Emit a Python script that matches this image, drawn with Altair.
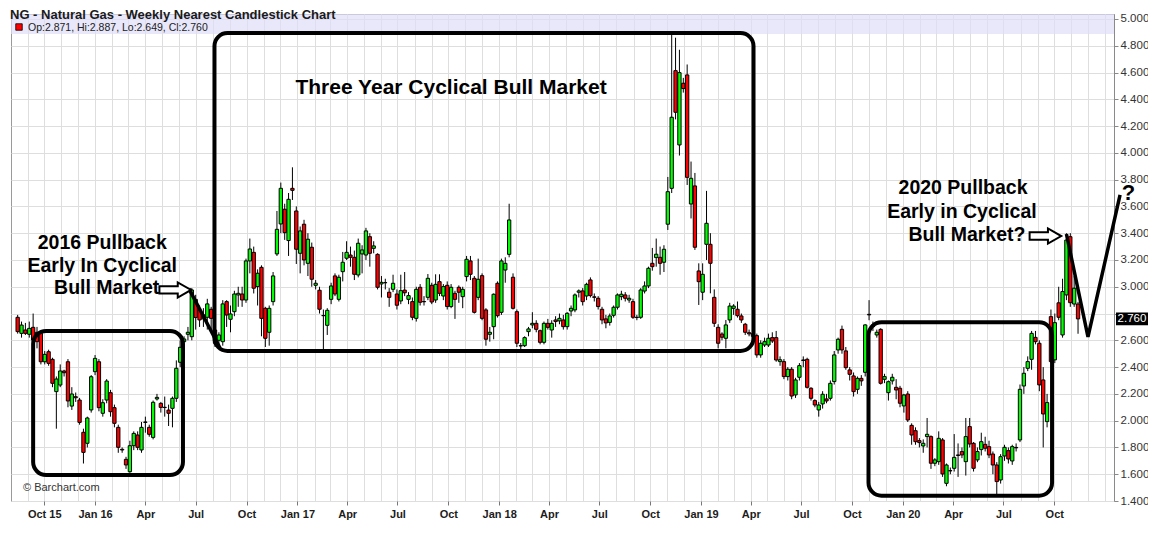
import altair as alt
import pandas as pd
import numpy as np

# ---------------- weekly OHLC ----------------
first_week = "2015-08-14"

opens = [
    2.772, 2.652, 2.677, 2.645, 2.697, 2.66, 2.652, 2.440, 2.515, 2.458,
    2.217, 2.266, 2.371, 2.440, 2.109, 2.179, 2.154, 1.913, 1.831, 2.080,
    2.366, 2.440, 2.055, 2.154, 2.209, 2.097, 1.950, 1.786, 1.711, 1.619,
    1.813, 1.893, 1.781, 1.987, 1.950, 1.875, 2.162, 2.129, 2.100, 2.079,
    2.092, 2.167, 2.436, 2.590, 2.645, 2.627, 2.906, 2.827, 2.760, 2.772,
    2.832, 2.677, 2.600, 2.590, 2.889, 2.757, 2.814, 2.939, 2.946, 2.901,
    3.193, 3.257, 3.001, 3.145, 2.839, 2.660, 2.889, 3.245, 3.469, 3.579,
    3.345, 3.735, 3.566, 3.250, 3.467, 3.175, 3.295, 3.011, 2.974, 2.785,
    2.712, 2.906, 3.081, 2.906, 3.113, 3.213, 3.237, 3.220, 3.088, 3.245,
    3.237, 3.374, 3.287, 3.242, 3.021, 3.030, 2.959, 2.981, 2.946, 2.894,
    2.975, 2.906, 2.889, 2.764, 2.996, 2.890, 2.921, 3.011, 2.901, 3.038,
    2.931, 3.011, 2.852, 2.951, 2.996, 2.926, 3.076, 3.193, 3.063, 2.921,
    3.083, 2.827, 2.645, 2.702, 3.026, 2.809, 3.125, 3.242, 3.071, 2.814,
    2.560, 2.560, 2.665, 2.715, 2.727, 2.672, 2.585, 2.727, 2.677, 2.752,
    2.745, 2.752, 2.702, 2.819, 2.827, 2.959, 2.969, 2.931, 3.051, 2.925,
    2.914, 2.832, 2.760, 2.734, 2.787, 2.847, 2.926, 2.939, 2.901, 2.889,
    2.772, 2.772, 2.968, 3.006, 3.175, 3.218, 3.220, 3.183, 3.467, 3.735,
    4.614, 4.059, 4.520, 4.582, 3.618, 3.753, 3.118, 2.959, 3.317, 3.317,
    2.921, 2.697, 2.647, 2.615, 2.752, 2.839, 2.832, 2.782, 2.720, 2.657,
    2.650, 2.635, 2.491, 2.565, 2.565, 2.620, 2.620, 2.441, 2.441, 2.329,
    2.384, 2.192, 2.324, 2.453, 2.458, 2.242, 2.150, 2.080, 2.125, 2.162,
    2.167, 2.292, 2.528, 2.682, 2.521, 2.379, 2.334, 2.234, 2.316, 2.361,
    2.794, 2.715, 2.640, 2.682, 2.309, 2.209, 2.297, 2.249, 2.242, 2.110,
    2.199, 1.965, 1.925, 1.851, 1.811, 1.881, 1.881, 1.682, 1.694, 1.856,
    1.532, 1.627, 1.644, 1.744, 1.769, 1.694, 1.956, 1.831, 1.707, 1.784,
    1.823, 1.806, 1.751, 1.669, 1.557, 1.736, 1.776, 1.699, 1.800, 1.856,
    2.259, 2.391, 2.458, 2.622, 2.578, 2.304, 1.993, 2.777, 2.454, 2.880,
    2.640, 2.939, 3.374, 2.871, 2.871,
]

highs = [
    2.79, 2.74, 2.73, 2.74, 2.80, 2.70, 2.67, 2.52, 2.53, 2.47,
    2.33, 2.42, 2.38, 2.46, 2.25, 2.21, 2.17, 1.94, 2.03, 2.34,
    2.49, 2.46, 2.16, 2.31, 2.23, 2.12, 1.97, 1.80, 1.73, 1.85,
    1.92, 1.92, 1.99, 2.03, 1.97, 2.15, 2.20, 2.14, 2.18, 2.12,
    2.18, 2.45, 2.60, 2.63, 2.70, 2.99, 2.94, 2.86, 2.84, 2.91,
    2.85, 2.70, 2.66, 2.90, 2.90, 2.86, 2.97, 3.00, 3.00, 3.21,
    3.36, 3.30, 3.13, 3.16, 2.85, 2.86, 3.11, 3.566, 3.778, 3.62,
    3.70, 3.892, 3.60, 3.45, 3.50, 3.40, 3.33, 3.05, 3.00, 2.83,
    2.84, 3.03, 3.10, 3.09, 3.26, 3.34, 3.30, 3.27, 3.36, 3.31,
    3.44, 3.40, 3.34, 3.25, 3.08, 3.06, 2.99, 3.09, 2.98, 3.09,
    3.11, 2.96, 2.92, 3.00, 3.02, 2.93, 3.095, 3.03, 3.093, 3.093,
    3.02, 3.04, 3.02, 2.97, 3.01, 3.00, 3.23, 3.23, 3.08, 3.21,
    3.10, 2.84, 2.70, 2.95, 3.04, 3.21, 3.22, 3.62, 3.10, 2.83,
    2.58, 2.63, 2.70, 2.81, 2.75, 2.68, 2.74, 2.76, 2.75, 2.78,
    2.80, 2.79, 2.81, 2.86, 2.95, 2.98, 2.99, 3.03, 3.07, 2.95,
    2.93, 2.85, 2.79, 2.80, 2.86, 2.95, 2.97, 2.96, 2.94, 2.91,
    2.79, 2.99, 3.04, 3.15, 3.29, 3.36, 3.30, 3.31, 3.82, 4.90,
    4.86, 4.77, 4.56, 4.66, 3.935, 3.85, 3.175, 3.175, 3.716, 3.40,
    2.98, 2.72, 2.66, 2.752, 2.88, 2.87, 2.89, 2.80, 2.73, 2.68,
    2.67, 2.65, 2.60, 2.62, 2.65, 2.66, 2.67, 2.48, 2.46, 2.40,
    2.40, 2.32, 2.43, 2.48, 2.47, 2.25, 2.16, 2.14, 2.22, 2.20,
    2.30, 2.52, 2.62, 2.71, 2.55, 2.40, 2.36, 2.33, 2.34, 2.72,
    2.90, 2.74, 2.68, 2.69, 2.35, 2.30, 2.35, 2.31, 2.26, 2.20,
    2.22, 1.98, 1.95, 1.87, 1.86, 2.02, 1.89, 1.72, 1.92, 1.87,
    1.68, 1.65, 1.90, 1.83, 1.80, 2.02, 2.02, 1.84, 1.80, 1.91,
    1.88, 1.85, 1.77, 1.69, 1.75, 1.82, 1.80, 1.82, 1.83, 2.27,
    2.40, 2.48, 2.67, 2.67, 2.60, 2.40, 2.20, 2.83, 2.80, 3.00,
    3.06, 3.40, 3.40, 3.08, 2.887,
]

lows = [
    2.65, 2.62, 2.64, 2.62, 2.59, 2.54, 2.42, 2.42, 2.41, 2.25,
    1.94, 2.25, 2.33, 2.10, 2.08, 2.14, 1.97, 1.68, 1.80, 2.06,
    2.34, 2.07, 2.03, 2.13, 2.03, 1.95, 1.76, 1.76, 1.64, 1.61,
    1.78, 1.78, 1.76, 1.91, 1.88, 1.86, 2.15, 2.06, 2.03, 1.96,
    1.95, 2.14, 2.40, 2.47, 2.60, 2.60, 2.68, 2.70, 2.70, 2.68,
    2.68, 2.55, 2.54, 2.56, 2.70, 2.66, 2.78, 2.85, 2.85, 2.88,
    3.10, 2.95, 2.86, 2.63, 2.55, 2.56, 2.86, 3.23, 3.40, 3.35,
    3.23, 3.648, 3.17, 3.10, 3.16, 3.08, 3.00, 2.98, 2.80, 2.528,
    2.64, 2.87, 2.93, 2.89, 3.04, 3.20, 3.15, 3.05, 3.07, 3.10,
    3.20, 3.15, 3.25, 2.98, 2.92, 2.98, 2.85, 2.96, 2.83, 2.87,
    2.93, 2.87, 2.75, 2.74, 2.86, 2.86, 2.90, 2.87, 2.88, 2.93,
    2.90, 2.83, 2.84, 2.76, 2.88, 2.84, 3.04, 3.05, 2.80, 2.90,
    2.75, 2.56, 2.59, 2.608, 2.77, 2.79, 3.03, 3.22, 2.83, 2.55,
    2.52, 2.55, 2.63, 2.69, 2.66, 2.57, 2.57, 2.68, 2.62, 2.70,
    2.72, 2.68, 2.68, 2.78, 2.81, 2.92, 2.86, 2.90, 2.92, 2.89,
    2.83, 2.72, 2.69, 2.71, 2.77, 2.83, 2.90, 2.89, 2.88, 2.76,
    2.75, 2.76, 2.95, 2.99, 3.12, 3.15, 3.09, 3.11, 3.424, 3.70,
    4.25, 3.98, 4.45, 3.76, 3.51, 3.275, 2.864, 2.90, 3.20, 2.951,
    2.70, 2.54, 2.60, 2.54, 2.73, 2.79, 2.77, 2.73, 2.64, 2.63,
    2.60, 2.47, 2.47, 2.55, 2.55, 2.58, 2.44, 2.41, 2.31, 2.30,
    2.16, 2.17, 2.30, 2.40, 2.24, 2.15, 2.10, 2.03, 2.09, 2.13,
    2.15, 2.27, 2.50, 2.50, 2.38, 2.30, 2.18, 2.20, 2.26, 2.33,
    2.75, 2.67, 2.62, 2.27, 2.28, 2.15, 2.27, 2.16, 2.10, 2.06,
    1.99, 1.82, 1.82, 1.80, 1.76, 1.80, 1.64, 1.66, 1.67, 1.58,
    1.51, 1.60, 1.62, 1.58, 1.72, 1.59, 1.80, 1.62, 1.69, 1.74,
    1.77, 1.72, 1.60, 1.445, 1.53, 1.70, 1.68, 1.67, 1.77, 1.84,
    2.20, 2.37, 2.38, 2.57, 2.22, 1.80, 1.95, 2.43, 2.43, 2.75,
    2.62, 2.90, 2.85, 2.85, 2.649,
]

closes = [
    2.665, 2.714, 2.652, 2.689, 2.602, 2.59, 2.440, 2.495, 2.428, 2.279,
    2.311, 2.371, 2.358, 2.147, 2.199, 2.171, 1.987, 1.763, 2.020, 2.328,
    2.465, 2.097, 2.134, 2.296, 2.067, 1.980, 1.801, 1.781, 1.669, 1.813,
    1.905, 1.801, 1.950, 1.990, 1.898, 2.137, 2.174, 2.099, 2.098, 2.055,
    2.167, 2.391, 2.548, 2.610, 2.660, 2.976, 2.770, 2.752, 2.790, 2.872,
    2.764, 2.578, 2.640, 2.872, 2.789, 2.797, 2.946, 2.951, 2.901, 3.193,
    3.282, 2.989, 3.101, 2.764, 2.615, 2.839, 3.081, 3.429, 3.735, 3.404,
    3.653, 3.720, 3.280, 3.417, 3.200, 3.355, 3.056, 3.026, 2.832, 2.784,
    2.824, 3.006, 2.946, 3.071, 3.183, 3.257, 3.220, 3.093, 3.325, 3.275,
    3.417, 3.250, 3.305, 2.996, 3.033, 3.031, 2.921, 3.026, 2.862, 2.971,
    2.955, 2.934, 2.772, 2.981, 2.884, 2.888, 3.063, 2.886, 3.018, 2.951,
    3.001, 2.852, 2.996, 2.906, 2.959, 2.981, 3.205, 3.093, 2.809, 3.056,
    2.764, 2.608, 2.660, 2.944, 2.784, 3.193, 3.175, 3.499, 2.839, 2.578,
    2.558, 2.620, 2.685, 2.727, 2.682, 2.585, 2.727, 2.697, 2.727, 2.740,
    2.764, 2.702, 2.802, 2.839, 2.939, 2.969, 2.889, 3.018, 2.934, 2.921,
    2.852, 2.752, 2.730, 2.782, 2.847, 2.939, 2.944, 2.914, 2.914, 2.772,
    2.770, 2.976, 3.006, 3.138, 3.150, 3.243, 3.175, 3.280, 3.710, 4.266,
    4.303, 4.599, 4.480, 3.817, 3.810, 3.295, 3.038, 3.093, 3.474, 3.175,
    2.727, 2.578, 2.623, 2.715, 2.856, 2.856, 2.784, 2.752, 2.660, 2.648,
    2.630, 2.491, 2.578, 2.590, 2.615, 2.595, 2.453, 2.455, 2.329, 2.384,
    2.184, 2.304, 2.411, 2.450, 2.249, 2.167, 2.117, 2.117, 2.197, 2.147,
    2.279, 2.491, 2.608, 2.528, 2.396, 2.346, 2.217, 2.316, 2.297, 2.715,
    2.790, 2.702, 2.660, 2.279, 2.329, 2.291, 2.324, 2.229, 2.130, 2.192,
    2.005, 1.893, 1.843, 1.836, 1.831, 1.898, 1.682, 1.707, 1.868, 1.602,
    1.669, 1.625, 1.726, 1.740, 1.744, 1.881, 1.826, 1.644, 1.769, 1.843,
    1.794, 1.744, 1.669, 1.545, 1.731, 1.801, 1.714, 1.806, 1.797, 2.234,
    2.354, 2.441, 2.652, 2.590, 2.267, 2.050, 2.135, 2.441, 2.732, 2.772,
    2.964, 3.349, 2.881, 2.989, 2.760,
]

# ---------------- annotations ----------------
box_start = ["2015-09-11", "2016-08-04", "2019-10-31"]
box_end = ["2016-06-08", "2019-04-06", "2020-09-27"]
box_top = [2.670, 4.895, 2.735]
box_bottom = [1.594, 2.521, 1.440]

line_group = ["pointer", "pointer", "vee", "vee", "vee"]
line_order = [0, 1, 0, 1, 2]
line_dates = ["2016-06-19", "2016-08-14", "2020-10-23", "2020-12-01", "2021-01-28"]
line_prices = [2.984, 2.543, 3.394, 2.625, 3.686]

arrow_dates = ["2016-05-25", "2020-09-15"]
arrow_prices = [2.976, 3.379]

note_text = ["Three Year Cyclical Bull Market", "2016 Pullback", "Early In Cyclical",
             "Bull Market", "2020 Pullback", "Early in Cyclical", "Bull Market?", "?"]
note_dates = ["2017-10-06", "2016-01-14", "2016-01-14", "2016-01-22",
              "2020-04-19", "2020-04-17", "2020-04-26", "2021-02-12"]
note_prices = [4.485, 3.327, 3.155, 2.991, 3.738, 3.559, 3.387, 3.70]
note_sizes = [21, 19.5, 19.5, 19.5, 19.5, 19.5, 19.5, 22]

price_ticks = [round(1.4 + 0.2 * k, 1) for k in range(19)]
month_ticks = [alt.DateTime(year=y, month=m, date=1)
               for y in range(2015, 2022) for m in range(1, 13)
               if (2015, 9) <= (y, m) <= (2021, 1)]

title_text = "NG - Natural Gas - Weekly Nearest Candlestick Chart"
credit_text = "\u00a9 Barchart.com"

# ---------------- frames ----------------
candles = pd.DataFrame({
    "date": pd.date_range(first_week, periods=len(opens), freq="7D"),
    "open": opens, "high": highs, "low": lows, "close": closes,
})
candles["dir"] = np.where(candles["close"] >= candles["open"], "up", "down")

boxes = pd.DataFrame({"d0": box_start, "d1": box_end, "p0": box_top, "p1": box_bottom})
lines = pd.DataFrame({"g": line_group, "o": line_order, "d": line_dates, "p": line_prices})
arrows = pd.DataFrame({"d": arrow_dates, "p": arrow_prices})
notes = pd.DataFrame({"t": note_text, "d": note_dates, "p": note_prices, "fs": note_sizes})
last = pd.DataFrame({
    "p": [closes[-1]],
    "lbl": [f"{closes[-1]:.3f}"],
    "hdr": [f"Op:{opens[-1]:.3f}, Hi:{highs[-1]:.3f}, Lo:{lows[-1]:.3f}, Cl:{closes[-1]:.3f}"],
    "title": [title_text],
    "credit": [credit_text],
})

W, H = 1103, 487
FONT = "Liberation Sans"

xscale = alt.Scale(domain=[alt.DateTime(year=2015, month=8, date=11),
                           alt.DateTime(year=2021, month=1, date=8)])
yscale = alt.Scale(domain=[1.4, 5.037], nice=False, zero=False)

quarter = "month(datum.value) % 3 == 0 && year(datum.value) < 2021"
xaxis = alt.Axis(
    values=month_ticks, grid=True, gridColor="#dedede", domain=False,
    tickColor="#777777", tickSize=4,
    tickOpacity={"condition": {"test": quarter, "value": 1}, "value": 0},
    labelExpr=("(month(datum.value) % 3 != 0 || year(datum.value) > 2020) ? '' : "
               "((month(datum.value) == 0 || year(datum.value) == 2015) ? "
               "timeFormat(datum.value, '%b %y') : timeFormat(datum.value, '%b'))"),
    labelFont=FONT, labelFontWeight="bold", labelFontSize=11, labelColor="#1c1c1c",
    labelPadding=3, labelOverlap=False, labelFlush=False, title=None,
)
yaxis = alt.Axis(
    orient="right", values=price_ticks, format=".3f",
    labelExpr="abs(datum.value - 2.8) < 0.001 ? '' : datum.label",
    grid=True, gridColor="#dedede", domainColor="#8a8a8a", tickColor="#8a8a8a",
    tickSize=4, labelFont=FONT, labelFontSize=11.5, labelColor="#333333",
    labelPadding=2, title=None,
)

X = lambda f: alt.X(f, scale=xscale, axis=xaxis)
Y = lambda f: alt.Y(f, scale=yscale, axis=yaxis)

band = alt.Chart(last).mark_rect(color="#dedef8", opacity=0.7).encode(
    x=alt.value(0), x2=alt.value(W), y=alt.value(0), y2=alt.value(20))

wicks = alt.Chart(candles).mark_rule(color="black", strokeWidth=1).encode(
    x=X("date:T"), y=Y("low:Q"), y2="high:Q")

bodies = alt.Chart(candles).mark_bar(size=3.3, stroke="black", strokeWidth=1).encode(
    x=X("date:T"), y=Y("open:Q"), y2="close:Q",
    color=alt.Color("dir:N", scale=alt.Scale(domain=["up", "down"],
                                             range=["#00ff00", "#ff0000"]), legend=None))

frames = alt.Chart(boxes).mark_rect(fill="transparent", stroke="black", strokeWidth=4,
                                    cornerRadius=13).encode(
    x=X("d0:T"), x2="d1:T", y=Y("p0:Q"), y2="p1:Q")

strokes = alt.Chart(lines).mark_line(color="black", strokeWidth=3.5, clip=False).encode(
    x=X("d:T"), y=Y("p:Q"), detail="g:N", order="o:Q")

arrow_path = "M-1,-0.23L0.16,-0.23L0.16,-0.48L1,0L0.16,0.48L0.16,0.23L-1,0.23Z"
pointers = alt.Chart(arrows).mark_point(shape=arrow_path, size=1000, filled=True,
                                        fill="white", stroke="black", strokeWidth=2,
                                        opacity=1).encode(
    x=X("d:T"), y=Y("p:Q"))

labels = alt.Chart(notes).mark_text(font=FONT, fontWeight="bold", color="black",
                                    align="center", baseline="middle", clip=False).encode(
    x=X("d:T"), y=Y("p:Q"), text="t:N", size=alt.Size("fs:Q", scale=None, legend=None))

price_box = alt.Chart(last).mark_point(
    shape="M-1,-0.36L1,-0.36L1,0.36L-1,0.36Z", size=900, filled=True,
    fill="black", stroke="black", opacity=1).encode(x=alt.value(W + 18), y=Y("p:Q"))
price_txt = alt.Chart(last).mark_text(font=FONT, fontSize=11.5, color="white",
                                      align="center", baseline="middle").encode(
    x=alt.value(W + 18), y=Y("p:Q"), text="lbl:N")

header_sq = alt.Chart(last).mark_point(shape="square", size=42, filled=True,
                                       fill="#ff0000", stroke="black", strokeWidth=0.8,
                                       opacity=1).encode(x=alt.value(8), y=alt.value(13))
header_txt = alt.Chart(last).mark_text(font=FONT, fontSize=10.5, color="#222222",
                                       align="left", baseline="middle").encode(
    x=alt.value(17), y=alt.value(13.5), text="hdr:N")
title = alt.Chart(last).mark_text(font=FONT, fontSize=13, fontWeight="bold",
                                  color="#1a1a1a", align="left",
                                  baseline="top").encode(
    x=alt.value(-1), y=alt.value(-5), text="title:N")
credit = alt.Chart(last).mark_text(font=FONT, fontSize=11, color="#333333",
                                   align="left", baseline="middle").encode(
    x=alt.value(12), y=alt.value(474), text="credit:N")

chart = alt.layer(
    band, wicks, bodies, frames, strokes, pointers, labels,
    price_box, price_txt, header_sq, header_txt, title, credit,
).properties(
    width=W, height=H,
    autosize=alt.AutoSizeParams(type="none"),
    padding={"left": 3, "top": 6, "right": 34, "bottom": 20},
).configure_view(stroke="#9a9a9a", strokeWidth=1)

chart.save("out.html", embed_options={"renderer": "svg", "actions": False})
